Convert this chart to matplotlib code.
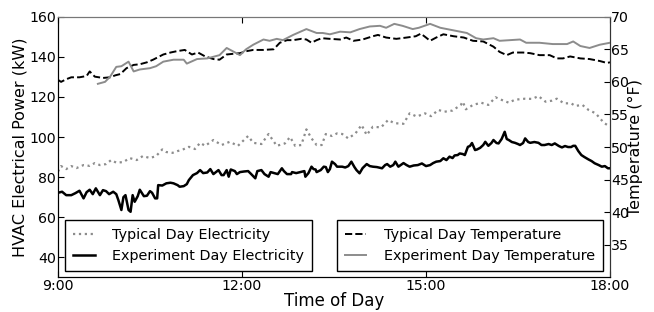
import numpy as np
import matplotlib
matplotlib.use("Agg")
import matplotlib.pyplot as plt

## minutes after 9:00 and values

## typical day temperature (F)
tt_min = [0, 3, 8, 13, 21, 28, 31, 36, 44, 51, 56, 61, 67, 74, 80, 87, 93, 103, 110, 116,
          124, 131, 137, 144, 152, 158, 165, 171, 178, 184, 191, 201, 211, 217, 224, 230,
          238, 243, 248, 253, 258, 266, 276, 282, 289, 298, 308, 313, 321, 331, 341, 350,
          355, 360, 364, 370, 377, 387, 397, 406, 416, 426, 432, 439, 445, 455, 462, 471,
          481, 488, 494, 501, 511, 520, 530, 537, 540]
tt_val = [60.3, 60.0, 60.4, 60.7, 60.7, 60.9, 61.6, 60.8, 60.6, 60.7, 61.0, 61.2, 62.1, 62.6,
          62.7, 63.0, 63.4, 64.2, 64.5, 64.7, 64.9, 64.2, 64.5, 63.9, 63.5, 63.4, 64.2, 64.3,
          64.4, 64.7, 64.9, 64.9, 65.0, 66.0, 66.4, 66.4, 66.6, 66.5, 66.0, 66.4, 66.7, 66.6,
          66.5, 66.8, 66.3, 66.5, 67.0, 67.2, 66.8, 66.6, 66.8, 67.0, 67.4, 66.8, 66.3, 66.8,
          67.3, 67.0, 66.8, 66.3, 66.2, 65.4, 64.6, 64.1, 64.5, 64.5, 64.4, 64.1, 64.1, 63.6,
          63.6, 63.9, 63.6, 63.5, 63.2, 62.9, 63.0]

## experiment day temperature (F)
et_min = [39, 46, 51, 57, 62, 69, 74, 80, 90, 96, 103, 113, 123, 126, 136, 146, 158, 165,
          171, 178, 184, 191, 201, 207, 214, 220, 230, 243, 253, 259, 266, 276, 286, 295,
          305, 315, 321, 329, 337, 347, 353, 364, 374, 387, 400, 409, 416, 426, 432, 442,
          452, 458, 471, 484, 498, 504, 511, 520, 530, 540]
et_val = [59.7, 60.0, 60.8, 62.3, 62.4, 63.1, 61.6, 61.9, 62.1, 62.4, 63.1, 63.4, 63.4, 62.8,
          63.5, 63.6, 64.1, 65.2, 64.7, 64.1, 65.0, 65.7, 66.5, 66.3, 66.6, 66.4, 67.2, 68.1,
          67.5, 67.5, 67.3, 67.7, 67.6, 68.1, 68.5, 68.6, 68.3, 68.9, 68.6, 68.1, 68.3, 68.9,
          68.3, 67.9, 67.5, 66.7, 66.5, 66.7, 66.3, 66.4, 66.5, 66.0, 66.0, 65.8, 65.8, 66.2,
          65.5, 65.2, 65.7, 66.0]

## typical day electricity (kW)
te_min = [0, 3, 8, 13, 18, 25, 31, 36, 41, 47, 52, 57, 64, 70, 77, 83, 90, 96, 102, 106,
          112, 117, 121, 128, 134, 139, 144, 152, 160, 168, 176, 186, 191, 199, 206, 214,
          222, 227, 232, 238, 243, 248, 253, 258, 262, 268, 273, 278, 284, 291, 297, 302,
          308, 316, 323, 329, 338, 344, 351, 359, 365, 372, 378, 386, 394, 396, 399, 406,
          414, 421, 428, 434, 441, 447, 457, 464, 470, 477, 483, 488, 495, 502, 506, 513,
          519, 526, 534, 540]
te_val = [82.8, 85.5, 84.0, 85.5, 84.5, 86.0, 85.6, 87.0, 86.0, 86.5, 88.5, 87.2, 87.5, 89.5,
          88.5, 90.5, 89.5, 90.5, 93.8, 92.5, 92.1, 93.0, 93.5, 95.1, 94.0, 97.1, 95.6, 98.5,
          96.0, 97.6, 95.6, 100.5, 97.1, 96.5, 101.5, 95.6, 96.8, 100.0, 95.6, 96.0, 103.8,
          99.3, 96.0, 96.0, 101.5, 100.5, 101.8, 101.5, 99.3, 101.8, 106.0, 101.0, 105.1,
          104.8, 108.5, 106.9, 106.6, 111.8, 110.2, 111.8, 110.4, 113.5, 112.6, 113.2, 116.0,
          117.6, 113.8, 116.0, 117.1, 116.0, 119.8, 118.5, 117.1, 118.6, 119.1, 119.0, 120.4,
          117.6, 118.1, 119.1, 116.8, 116.8, 115.5, 116.0, 113.5, 111.8, 107.1, 105.1]

## experiment day electricity (kW)
ee_min = [0, 4, 8, 13, 17, 21, 25, 28, 31, 34, 37, 41, 44, 47, 50, 54, 57, 59, 62, 64, 66,
          69, 71, 73, 75, 78, 80, 84, 87, 90, 92, 95, 97, 98, 102, 106, 110, 113, 117, 119,
          123, 126, 128, 132, 136, 139, 142, 146, 149, 152, 157, 160, 162, 165, 167, 169,
          173, 175, 178, 182, 186, 189, 193, 195, 199, 202, 206, 208, 212, 215, 219, 221,
          224, 228, 229, 233, 237, 241, 242, 245, 248, 250, 252, 253, 257, 260, 262, 264,
          266, 268, 271, 273, 278, 281, 284, 287, 290, 292, 295, 298, 302, 305, 308, 312,
          317, 320, 322, 325, 328, 330, 333, 338, 341, 344, 348, 352, 356, 360, 364, 367,
          370, 374, 377, 380, 383, 386, 388, 391, 393, 396, 398, 401, 403, 405, 408, 410,
          413, 416, 418, 421, 424, 426, 429, 431, 434, 437, 439, 441, 444, 447, 450, 452,
          455, 457, 460, 462, 466, 470, 473, 476, 480, 483, 486, 490, 493, 496, 499, 502,
          504, 506, 509, 512, 515, 519, 522, 525, 529, 532, 535, 538, 540]
ee_val = [72.2, 72.7, 71.0, 71.0, 72.0, 73.2, 69.4, 72.5, 73.7, 71.5, 74.4, 71.0, 73.5, 73.0,
          71.5, 72.7, 71.5, 68.6, 63.6, 70.0, 71.0, 63.6, 62.7, 71.0, 67.7, 70.5, 73.7, 70.5,
          70.7, 73.0, 72.2, 69.4, 69.4, 76.0, 75.8, 76.9, 77.2, 76.9, 76.0, 75.2, 75.5, 76.5,
          78.5, 81.0, 82.0, 83.5, 82.0, 82.3, 84.0, 81.5, 83.5, 81.0, 81.0, 83.5, 80.2, 83.8,
          83.0, 81.5, 82.5, 82.8, 83.0, 81.5, 79.4, 83.0, 83.5, 81.5, 80.2, 82.5, 81.9, 81.5,
          84.4, 83.0, 81.5, 81.5, 82.5, 82.0, 82.5, 83.0, 80.2, 82.0, 85.2, 84.0, 83.8, 82.5,
          83.5, 85.2, 85.0, 82.5, 84.0, 87.7, 86.5, 85.2, 85.2, 84.8, 85.5, 87.7, 85.0, 83.5,
          81.9, 84.5, 86.5, 85.5, 85.2, 85.0, 84.4, 86.0, 86.5, 85.2, 86.0, 87.7, 85.2, 87.0,
          86.0, 85.2, 85.8, 86.0, 86.8, 85.5, 86.0, 87.0, 87.7, 88.0, 89.4, 88.5, 90.2, 89.5,
          90.8, 91.0, 91.8, 91.5, 91.0, 95.1, 95.5, 97.0, 93.5, 93.8, 94.6, 96.0, 97.6, 95.6,
          97.0, 98.5, 97.0, 96.8, 99.0, 102.6, 99.0, 98.5, 97.5, 97.1, 96.5, 96.0, 97.0, 99.3,
          97.5, 97.1, 97.5, 97.1, 96.0, 96.0, 96.5, 96.0, 96.8, 95.5, 94.8, 95.5, 95.0, 95.0,
          95.6, 95.6, 93.0, 91.0, 90.0, 88.8, 88.0, 86.9, 86.0, 85.2, 85.5, 84.4, 84.4]

tick_hours = [9, 12, 15, 18]
tick_labels = ["9:00", "12:00", "15:00", "18:00"]


def hrs(m):
    return 9 + np.array(m) / 60.0


fig = plt.figure(figsize=(6.54, 3.12), dpi=100)
ax1 = fig.add_axes([0.0887, 0.111, 0.844, 0.8355])
ax2 = ax1.twinx()

l1, = ax1.plot(hrs(te_min), te_val, color="#8c8c8c", ls=":", lw=1.6,
               label="Typical Day Electricity")
l2, = ax1.plot(hrs(ee_min), ee_val, color="black", ls="-", lw=1.8,
               label="Experiment Day Electricity")
l3, = ax2.plot(hrs(tt_min), tt_val, color="black", ls="--", lw=1.4,
               label="Typical Day Temperature")
l4, = ax2.plot(hrs(et_min), et_val, color="#8c8c8c", ls="-", lw=1.4,
               label="Experiment Day Temperature")

ax1.set_xlim(9, 18)
ax1.set_ylim(30, 160)
ax2.set_ylim(30, 70)
ax1.set_xticks(tick_hours)
ax1.set_xticklabels(tick_labels)
ax1.set_yticks(range(40, 161, 20))
ax2.set_yticks(range(35, 71, 5))

ax1.tick_params(axis="x", direction="in", top=True, labelsize=10.2, pad=1.5, length=4)
ax1.tick_params(axis="y", direction="in", labelsize=10.2, pad=1.5, length=4)
ax2.tick_params(axis="y", direction="in", labelsize=10.2, pad=1.0, length=4)

for ax in (ax1, ax2):
    ax.spines["top"].set_color("#777777")
    ax.spines["right"].set_color("#333333")

ax1.set_xlabel("Time of Day", fontsize=12, labelpad=-1)
ax1.set_ylabel("HVAC Electrical Power (kW)", fontsize=11.5, labelpad=1)
ax2.set_ylabel("Temperature (\u00b0F)", fontsize=11.5, labelpad=-1)

leg_kw = dict(fontsize=10.4, fancybox=False, edgecolor="black", framealpha=1,
              borderpad=0.55, handlelength=1.5, handletextpad=1.2, borderaxespad=0)
leg1 = ax1.legend(handles=[l1, l2], loc="lower left",
                  bbox_to_anchor=(0.0127, 0.023), **leg_kw)
leg2 = ax2.legend(handles=[l3, l4], loc="lower right",
                  bbox_to_anchor=(0.987, 0.023), **leg_kw)
leg1.get_frame().set_linewidth(1.0)
leg2.get_frame().set_linewidth(1.0)

plt.savefig("out.png", dpi=100)
